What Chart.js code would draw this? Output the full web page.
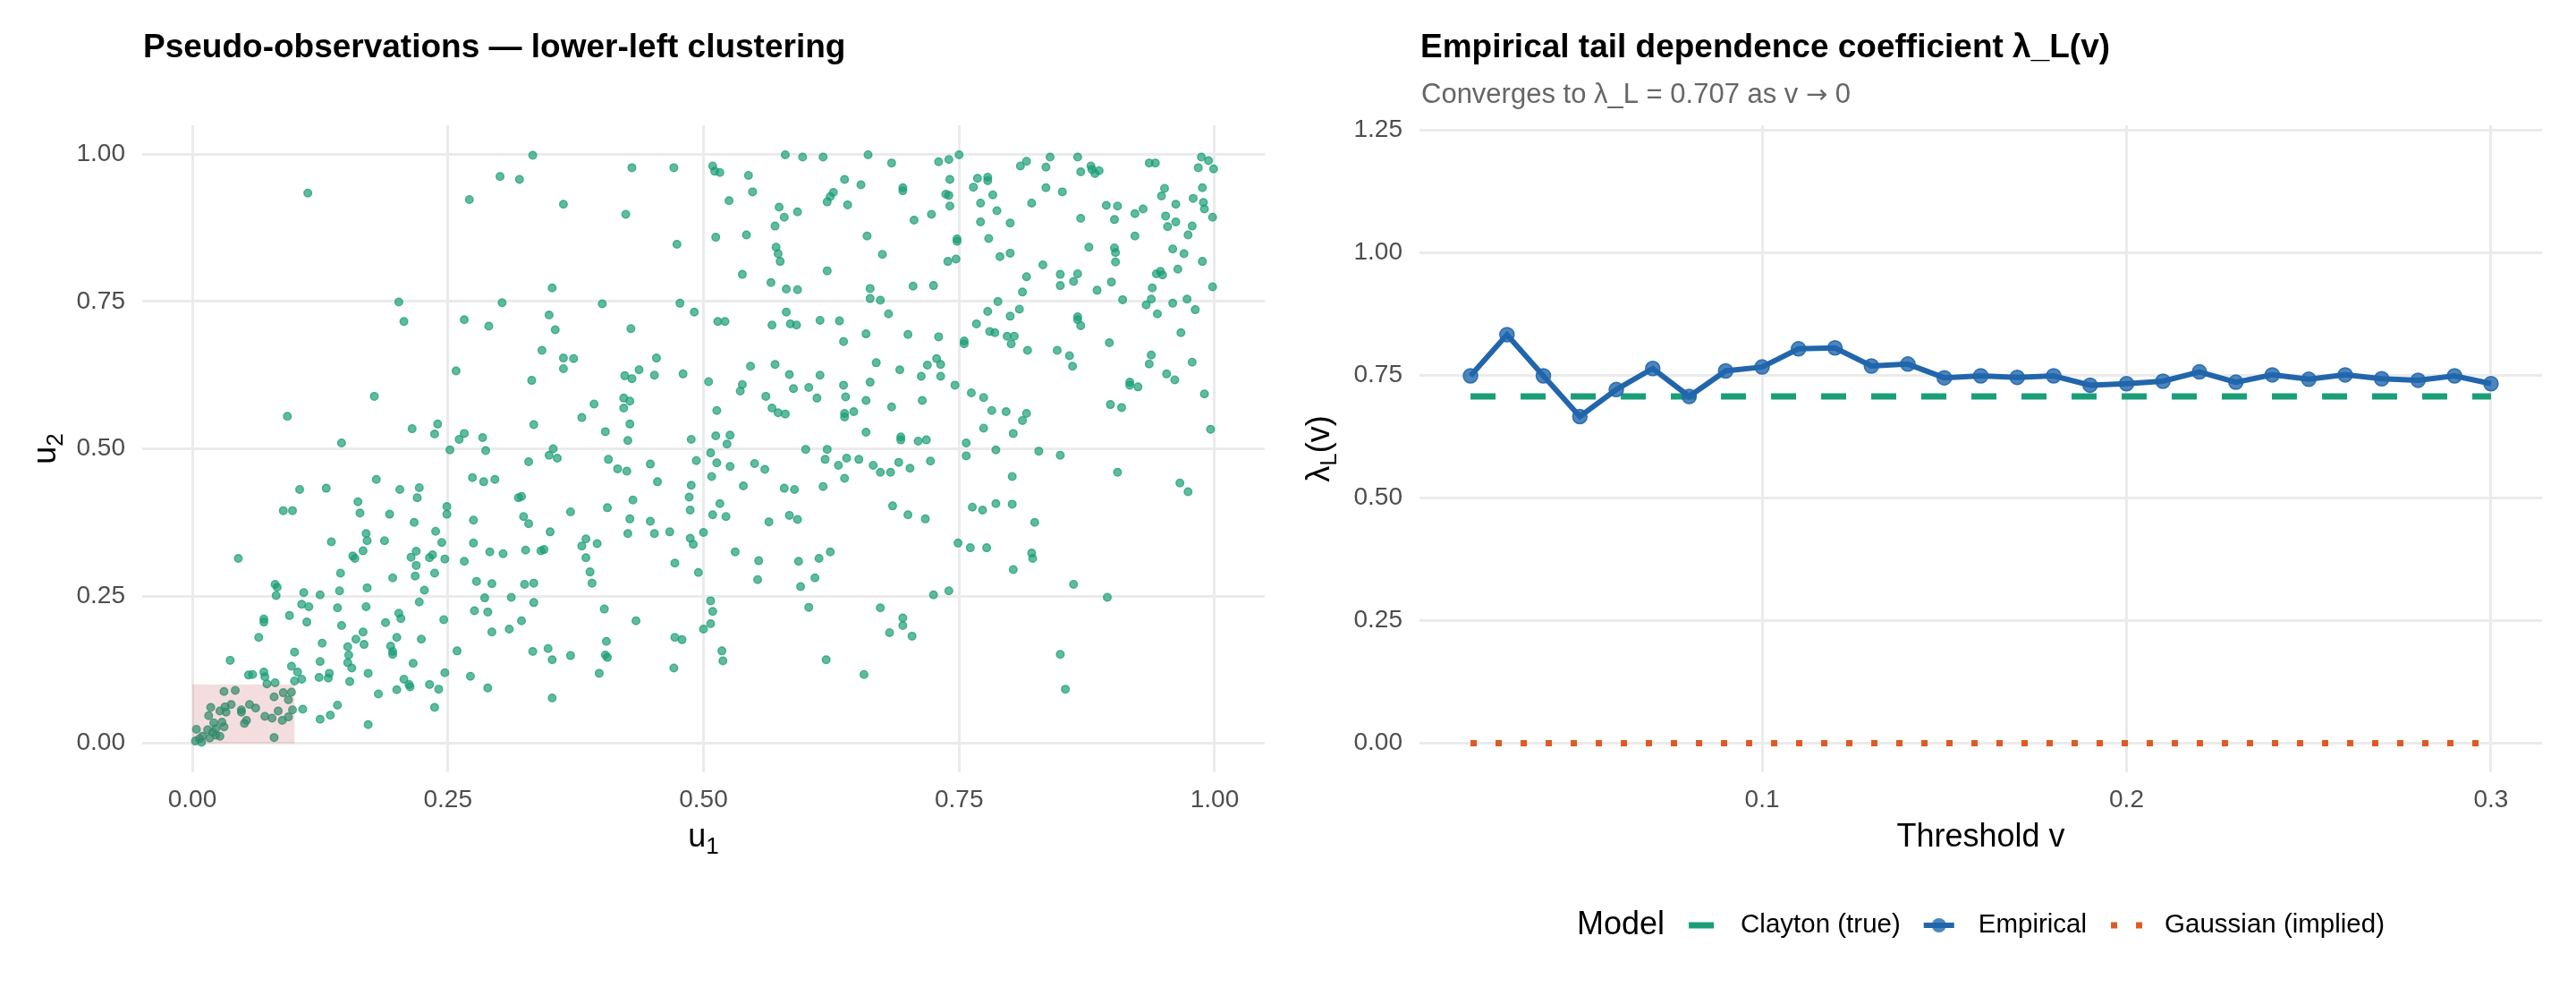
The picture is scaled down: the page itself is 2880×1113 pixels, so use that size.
<!DOCTYPE html>
<html>
<head>
<meta charset="utf-8">
<title>Clayton copula: pseudo-observations and tail dependence</title>
<script src="https://cdn.jsdelivr.net/npm/chart.js@4.4.1/dist/chart.umd.min.js"></script>
<style>
    html, body { margin: 0; padding: 0; background: #ffffff; }
    #wrap { position: relative; width: 2880px; height: 1113px; }
    #wrap canvas { position: absolute; top: 0; }
</style>
</head>
<body>
<div id="wrap">
    <canvas id="copulaChart" width="1440" height="1113" style="left:0"></canvas>
    <canvas id="tailChart" width="1440" height="1113" style="left:1440px"></canvas>
</div>
<script>
// Pseudo-observations (left panel)
const pseudoU1 = [
    0.333, 0.301, 0.320, 0.113, 0.271, 0.202, 0.207, 0.303, 0.266, 0.290, 0.258, 0.332, 0.178, 0.093, 0.215, 0.240,
    0.237, 0.266, 0.261, 0.284, 0.146, 0.334,
    0.430, 0.471, 0.363, 0.424, 0.474, 0.352, 0.401, 0.477, 0.491, 0.349, 0.355, 0.429, 0.342, 0.363, 0.373, 0.363,
    0.454, 0.437, 0.423, 0.430, 0.452, 0.480, 0.505, 0.393, 0.381, 0.422, 0.428, 0.422, 0.428, 0.404, 0.426, 0.488,
    0.509, 0.511, 0.516, 0.544, 0.580, 0.597, 0.617, 0.661, 0.684, 0.548, 0.525, 0.638, 0.654, 0.627, 0.624, 0.621,
    0.641, 0.574, 0.579, 0.592, 0.570, 0.512, 0.542, 0.660, 0.571, 0.573, 0.575, 0.675, 0.621, 0.538, 0.566, 0.581,
    0.592, 0.663, 0.663, 0.673, 0.681, 0.581, 0.514, 0.521, 0.567, 0.585, 0.591, 0.614, 0.633, 0.659, 0.637, 0.546,
    0.570, 0.584, 0.614, 0.669, 0.538, 0.536, 0.588, 0.603, 0.611, 0.637, 0.639, 0.663, 0.659, 0.561, 0.513, 0.567,
    0.573, 0.580, 0.638, 0.638, 0.647, 0.684, 0.512, 0.526, 0.523, 0.659,
    0.730, 0.740, 0.750, 0.741, 0.695, 0.695, 0.737, 0.740, 0.741, 0.706, 0.723, 0.768, 0.778, 0.778, 0.764, 0.783,
    0.771, 0.787, 0.771, 0.800, 0.748, 0.748, 0.779, 0.739, 0.747, 0.790, 0.800, 0.705, 0.725, 0.810, 0.816, 0.835,
    0.839, 0.866, 0.869, 0.879, 0.880, 0.883, 0.887, 0.835, 0.851, 0.821, 0.869, 0.894, 0.905, 0.902, 0.922, 0.930,
    0.922, 0.877, 0.902, 0.903, 0.903, 0.832, 0.816, 0.849, 0.866, 0.862, 0.849, 0.885, 0.899, 0.812, 0.788, 0.910,
    0.778, 0.809, 0.800, 0.767, 0.780, 0.785, 0.797, 0.804, 0.801, 0.755, 0.755, 0.700, 0.730, 0.817, 0.846, 0.858,
    0.861, 0.866, 0.866, 0.869, 0.897, 0.692, 0.719, 0.728, 0.732, 0.713, 0.732, 0.746, 0.714, 0.762, 0.774, 0.782,
    0.796, 0.816, 0.812, 0.774, 0.803, 0.693, 0.693, 0.710, 0.718, 0.757, 0.936, 0.942, 0.987, 0.994, 0.984, 0.999,
    0.951, 0.948, 0.988, 0.962, 0.979, 0.989, 0.990, 0.998, 0.952, 0.962, 0.954, 0.978, 0.974, 0.959, 0.970, 0.988,
    0.964, 0.943, 0.947, 0.949, 0.939, 0.938, 0.933, 0.944, 0.959, 0.973, 0.981, 0.998, 0.967, 0.938, 0.936, 0.978,
    0.953, 0.961, 0.917, 0.917, 0.925, 0.990, 0.898, 0.909, 0.996,
    0.252, 0.287, 0.329, 0.180, 0.105, 0.131, 0.203, 0.222, 0.220, 0.274, 0.285, 0.296, 0.319, 0.322, 0.089, 0.098,
    0.162, 0.164, 0.193, 0.249, 0.249, 0.217, 0.275, 0.324, 0.329, 0.170, 0.171, 0.136, 0.188, 0.238, 0.244, 0.275,
    0.045, 0.167, 0.157, 0.159, 0.219, 0.214, 0.219, 0.232, 0.235, 0.247, 0.266, 0.291, 0.304, 0.326, 0.145, 0.196,
    0.218, 0.237, 0.081, 0.083, 0.082, 0.109, 0.125, 0.144, 0.171, 0.227, 0.278, 0.293, 0.325, 0.334, 0.107, 0.114,
    0.142, 0.170, 0.222, 0.286, 0.312, 0.334, 0.070, 0.070, 0.095, 0.112, 0.146, 0.189, 0.202, 0.204, 0.246, 0.276,
    0.289, 0.293, 0.310, 0.322, 0.065, 0.127, 0.160, 0.167, 0.168, 0.200, 0.224, 0.194, 0.196, 0.196, 0.152, 0.153,
    0.152, 0.156, 0.259, 0.333, 0.037, 0.100, 0.125, 0.097, 0.103, 0.107, 0.100, 0.124, 0.133, 0.134, 0.154, 0.172,
    0.216, 0.207, 0.212, 0.213, 0.200, 0.182, 0.232, 0.241, 0.247, 0.272, 0.289, 0.237, 0.142, 0.135, 0.125, 0.172,
    0.108, 0.055, 0.059, 0.070, 0.071, 0.073, 0.081,
    0.031, 0.042, 0.080, 0.089, 0.097, 0.094, 0.098, 0.018, 0.027, 0.032, 0.038, 0.033, 0.016, 0.048, 0.048, 0.056,
    0.062, 0.071, 0.078, 0.084, 0.088, 0.094, 0.021, 0.029, 0.031, 0.053, 0.051, 0.004, 0.015, 0.020, 0.023, 0.027,
    0.010, 0.007, 0.003, 0.009, 0.017, 0.080, 0.023,
    0.353, 0.349, 0.357, 0.407, 0.416, 0.425, 0.448, 0.455, 0.493, 0.488, 0.486, 0.487, 0.431, 0.370, 0.406, 0.428,
    0.448, 0.426, 0.452, 0.467, 0.350, 0.341, 0.344, 0.385, 0.381, 0.396, 0.385, 0.389, 0.391, 0.472, 0.487, 0.490,
    0.500, 0.495, 0.507, 0.513, 0.526, 0.508, 0.550, 0.560, 0.600, 0.621, 0.619, 0.632, 0.640, 0.652, 0.666, 0.673,
    0.683, 0.638, 0.617, 0.539, 0.579, 0.589, 0.516, 0.509, 0.522, 0.564, 0.584, 0.592, 0.685, 0.531, 0.554, 0.553,
    0.593, 0.613, 0.624, 0.609, 0.595, 0.403, 0.434, 0.507, 0.509, 0.507, 0.500, 0.603, 0.673, 0.682, 0.405, 0.348,
    0.352, 0.370, 0.404, 0.406, 0.398, 0.472, 0.479, 0.471, 0.518, 0.519, 0.620, 0.657, 0.352,
    0.786, 0.828, 0.757, 0.849, 0.691, 0.702, 0.722, 0.802, 0.905, 0.966, 0.974, 0.700, 0.717, 0.763, 0.773, 0.786,
    0.802, 0.824, 0.749, 0.761, 0.777, 0.821, 0.822, 0.803, 0.862, 0.895, 0.725, 0.740, 0.695, 0.695, 0.704, 0.849,
    0.854
];
const pseudoU2 = [
    0.998, 0.962, 0.957, 0.934, 0.923, 0.749, 0.716, 0.748, 0.719, 0.708, 0.632, 0.616, 0.589, 0.555, 0.534, 0.542,
    0.525, 0.526, 0.516, 0.519, 0.510, 0.541,
    0.977, 0.977, 0.915, 0.898, 0.847, 0.773, 0.746, 0.747, 0.732, 0.727, 0.702, 0.704, 0.667, 0.654, 0.653, 0.636,
    0.654, 0.634, 0.624, 0.619, 0.625, 0.627, 0.614, 0.576, 0.553, 0.586, 0.581, 0.569, 0.542, 0.529, 0.514, 0.516,
    0.980, 0.971, 0.969, 0.964, 0.999, 0.995, 0.995, 0.999, 0.985, 0.936, 0.921, 0.957, 0.948, 0.935, 0.928, 0.919,
    0.914, 0.910, 0.893, 0.902, 0.878, 0.859, 0.863, 0.861, 0.842, 0.831, 0.818, 0.830, 0.802, 0.796, 0.782, 0.771,
    0.770, 0.772, 0.755, 0.752, 0.729, 0.732, 0.716, 0.716, 0.710, 0.712, 0.710, 0.718, 0.717, 0.695, 0.682, 0.640,
    0.643, 0.626, 0.625, 0.646, 0.609, 0.598, 0.602, 0.604, 0.586, 0.608, 0.588, 0.613, 0.582, 0.589, 0.565, 0.569,
    0.561, 0.559, 0.560, 0.554, 0.563, 0.571, 0.522, 0.523, 0.508, 0.528,
    0.987, 0.991, 0.999, 0.957, 0.943, 0.938, 0.932, 0.930, 0.912, 0.888, 0.898, 0.959, 0.961, 0.955, 0.944, 0.931,
    0.917, 0.904, 0.885, 0.883, 0.856, 0.852, 0.857, 0.818, 0.822, 0.826, 0.832, 0.776, 0.777, 0.980, 0.988, 0.978,
    0.995, 0.995, 0.970, 0.980, 0.974, 0.967, 0.972, 0.943, 0.936, 0.917, 0.891, 0.913, 0.912, 0.889, 0.899, 0.907,
    0.861, 0.842, 0.841, 0.833, 0.817, 0.812, 0.792, 0.796, 0.797, 0.784, 0.777, 0.769, 0.783, 0.766, 0.750, 0.753,
    0.733, 0.737, 0.725, 0.712, 0.699, 0.697, 0.691, 0.691, 0.678, 0.683, 0.678, 0.694, 0.690, 0.667, 0.667, 0.658,
    0.640, 0.724, 0.719, 0.709, 0.680, 0.634, 0.642, 0.653, 0.643, 0.623, 0.623, 0.608, 0.582, 0.595, 0.587, 0.565,
    0.563, 0.560, 0.548, 0.535, 0.526, 0.520, 0.515, 0.513, 0.515, 0.510, 0.985, 0.985, 0.995, 0.989, 0.977, 0.975,
    0.942, 0.929, 0.943, 0.915, 0.925, 0.918, 0.907, 0.893, 0.895, 0.885, 0.877, 0.878, 0.863, 0.839, 0.831, 0.818,
    0.805, 0.797, 0.801, 0.795, 0.773, 0.754, 0.744, 0.729, 0.747, 0.754, 0.736, 0.775, 0.697, 0.659, 0.644, 0.647,
    0.627, 0.617, 0.613, 0.608, 0.605, 0.593, 0.575, 0.570, 0.533,
    0.498, 0.497, 0.478, 0.448, 0.431, 0.433, 0.431, 0.434, 0.417, 0.451, 0.444, 0.448, 0.417, 0.419, 0.395, 0.395,
    0.410, 0.391, 0.389, 0.402, 0.389, 0.375, 0.379, 0.385, 0.373, 0.356, 0.344, 0.342, 0.344, 0.360, 0.341, 0.340,
    0.314, 0.327, 0.318, 0.314, 0.326, 0.316, 0.302, 0.315, 0.320, 0.313, 0.309, 0.325, 0.322, 0.328, 0.289, 0.281,
    0.284, 0.289, 0.270, 0.265, 0.251, 0.256, 0.252, 0.259, 0.264, 0.260, 0.275, 0.271, 0.270, 0.272, 0.236, 0.232,
    0.230, 0.232, 0.240, 0.247, 0.248, 0.239, 0.211, 0.206, 0.217, 0.206, 0.200, 0.205, 0.221, 0.212, 0.210, 0.225,
    0.223, 0.189, 0.194, 0.208, 0.180, 0.170, 0.177, 0.189, 0.168, 0.180, 0.177, 0.165, 0.156, 0.151, 0.164, 0.150,
    0.137, 0.128, 0.157, 0.156, 0.141, 0.155, 0.139, 0.131, 0.121, 0.109, 0.106, 0.112, 0.111, 0.119, 0.105, 0.119,
    0.136, 0.109, 0.100, 0.096, 0.091, 0.084, 0.100, 0.092, 0.120, 0.114, 0.094, 0.061, 0.065, 0.048, 0.041, 0.032,
    0.058, 0.116, 0.117, 0.121, 0.113, 0.101, 0.103,
    0.088, 0.090, 0.079, 0.086, 0.087, 0.074, 0.057, 0.061, 0.055, 0.062, 0.066, 0.053, 0.047, 0.057, 0.053, 0.066,
    0.060, 0.046, 0.043, 0.055, 0.039, 0.045, 0.035, 0.036, 0.028, 0.039, 0.034, 0.024, 0.023, 0.019, 0.014, 0.012,
    0.012, 0.008, 0.004, 0.002, 0.009, 0.010, 0.025,
    0.500, 0.489, 0.484, 0.482, 0.466, 0.462, 0.474, 0.444, 0.480, 0.438, 0.418, 0.396, 0.413, 0.393, 0.400, 0.381,
    0.377, 0.356, 0.356, 0.359, 0.359, 0.327, 0.329, 0.347, 0.335, 0.339, 0.315, 0.291, 0.272, 0.306, 0.348, 0.338,
    0.358, 0.290, 0.493, 0.476, 0.470, 0.453, 0.475, 0.465, 0.499, 0.499, 0.482, 0.472, 0.484, 0.482, 0.472, 0.460,
    0.460, 0.450, 0.436, 0.437, 0.433, 0.431, 0.407, 0.388, 0.385, 0.376, 0.387, 0.380, 0.403, 0.325, 0.310, 0.278,
    0.309, 0.314, 0.325, 0.281, 0.266, 0.228, 0.208, 0.242, 0.224, 0.203, 0.194, 0.231, 0.230, 0.188, 0.173, 0.161,
    0.142, 0.149, 0.150, 0.146, 0.119, 0.180, 0.176, 0.128, 0.157, 0.140, 0.142, 0.117, 0.077,
    0.498, 0.496, 0.488, 0.489, 0.477, 0.467, 0.479, 0.453, 0.460, 0.442, 0.427, 0.388, 0.381, 0.401, 0.396, 0.407,
    0.406, 0.375, 0.340, 0.332, 0.332, 0.323, 0.314, 0.295, 0.270, 0.248, 0.252, 0.259, 0.213, 0.200, 0.182, 0.151,
    0.092
];
const tailBoxLimit = 0.1;                 // lower-left box: u1, u2 <= 0.1
const copulaTicks = [0, 0.25, 0.5, 0.75, 1];

// Tail dependence (right panel)
const thresholds = [
    0.02, 0.03, 0.04, 0.05, 0.06, 0.07, 0.08, 0.09, 0.10, 0.11, 0.12, 0.13, 0.14, 0.15, 0.16,
    0.17, 0.18, 0.19, 0.20, 0.21, 0.22, 0.23, 0.24, 0.25, 0.26, 0.27, 0.28, 0.29, 0.30
];
const empiricalLambda = [
    0.749, 0.833, 0.749, 0.666, 0.721, 0.764, 0.707, 0.759, 0.767, 0.804, 0.806, 0.769, 0.773, 0.745, 0.749,
    0.746, 0.749, 0.730, 0.733, 0.738, 0.757, 0.736, 0.751, 0.742, 0.751, 0.743, 0.740, 0.749, 0.733
];
const claytonLambda = [
    0.707, 0.707, 0.707, 0.707, 0.707, 0.707, 0.707, 0.707, 0.707, 0.707, 0.707, 0.707, 0.707, 0.707, 0.707,
    0.707, 0.707, 0.707, 0.707, 0.707, 0.707, 0.707, 0.707, 0.707, 0.707, 0.707, 0.707, 0.707, 0.707
];
const gaussianLambda = [
    0, 0, 0, 0, 0, 0, 0, 0, 0, 0, 0, 0, 0, 0, 0,
    0, 0, 0, 0, 0, 0, 0, 0, 0, 0, 0, 0, 0, 0
];
const thresholdTicks = [0.1, 0.2, 0.3];
const lambdaTicks = [0, 0.25, 0.5, 0.75, 1, 1.25];
const modelNames = ['Clayton (true)', 'Empirical', 'Gaussian (implied)'];

const FONT = '"Liberation Sans", Arial, Helvetica, sans-serif';
const ARROW_FONT = '"DejaVu Sans", sans-serif';
const TICK_COLOR = '#4d4d4d';
const GRID_COLOR = '#ebebeb';
const GREEN = '#1b9e77';
const BLUE = '#2166ac';
const ORANGE = '#dc5a26';

Chart.defaults.font.family = FONT;

function toPoints(xs, ys) {
    return xs.map((x, i) => ({ x: x, y: ys[i] }));
}

// Linear axis in the ggplot minimal look: fixed ticks, no border, wide light grid
function makeAxis(tickValues, decimals, min, max, padding, fit) {
    return {
        type: 'linear',
        min: min,
        max: max,
        grid: { color: GRID_COLOR, lineWidth: 3, drawTicks: false },
        border: { display: false },
        ticks: {
            color: TICK_COLOR,
            font: { size: 28 },
            padding: padding,
            autoSkip: false,
            maxRotation: 0,
            callback: value => Number(value).toFixed(decimals)
        },
        afterBuildTicks: scale => {
            scale.ticks = tickValues.map(v => ({ value: v }));
        },
        afterFit: fit
    };
}

// Text with subscripts, e.g. u[1] or lambda[L](v)
function drawMathText(ctx, parts, cx, cy, rotated) {
    const mainFont = '36px ' + FONT;
    const subFont = '26px ' + FONT;
    ctx.save();
    ctx.translate(cx, cy);
    if (rotated) ctx.rotate(-Math.PI / 2);
    ctx.fillStyle = '#000000';
    ctx.textBaseline = 'alphabetic';
    ctx.textAlign = 'left';
    let total = 0;
    parts.forEach(p => {
        ctx.font = p.sub ? subFont : mainFont;
        p.w = ctx.measureText(p.text).width;
        total += p.w;
    });
    let x = -total / 2;
    parts.forEach(p => {
        ctx.font = p.sub ? subFont : mainFont;
        ctx.fillText(p.text, x, p.sub ? 8 : 0);
        x += p.w;
    });
    ctx.restore();
}

// Subtitle: the arrow comes from DejaVu, like the reference's fallback glyph
function drawSubtitle(ctx, text, x, y) {
    const pieces = text.split('\u2192');
    ctx.fillStyle = '#666666';
    pieces.forEach((piece, i) => {
        ctx.font = '31px ' + FONT;
        ctx.fillText(piece, x, y);
        x += ctx.measureText(piece).width;
        if (i < pieces.length - 1) {
            ctx.font = '29px ' + ARROW_FONT;
            ctx.fillText('\u2192', x, y);
            x += ctx.measureText('\u2192').width;
        }
    });
}

// Titles and axis titles, placed from the chart area
const panelText = {
    id: 'panelText',
    afterDraw(chart, args, opts) {
        const { ctx, chartArea } = chart;
        ctx.save();
        ctx.textAlign = 'left';
        ctx.textBaseline = 'alphabetic';
        ctx.fillStyle = '#000000';
        ctx.font = 'bold 37px ' + FONT;
        ctx.fillText(opts.title, chartArea.left + 1, 64);
        if (opts.subtitle) {
            drawSubtitle(ctx, opts.subtitle, chartArea.left + 2, 115);
        }
        ctx.restore();

        drawMathText(ctx, opts.xTitle, (chartArea.left + chartArea.right) / 2, 946, false);
        drawMathText(ctx, opts.yTitle, opts.yTitleX, (chartArea.top + chartArea.bottom) / 2, true);
    }
};

// Shaded lower-left tail region, drawn over the points
const tailBox = {
    id: 'tailBox',
    afterDatasetsDraw(chart) {
        const { ctx, scales } = chart;
        const x0 = scales.x.getPixelForValue(0);
        const x1 = scales.x.getPixelForValue(tailBoxLimit);
        const y0 = scales.y.getPixelForValue(0);
        const y1 = scales.y.getPixelForValue(tailBoxLimit);
        ctx.save();
        ctx.fillStyle = 'rgba(178, 24, 43, 0.15)';
        ctx.fillRect(x0, y1, x1 - x0, y0 - y1);
        ctx.restore();
    }
};

// Bottom legend, "Model" + three keys, centred under the panel
const modelLegend = {
    id: 'modelLegend',
    afterDraw(chart) {
        const { ctx, chartArea } = chart;
        const y = 1034;
        const keyW = 38, gapTitle = 22, gapLabel = 25, gapItem = 24;
        const labelFont = '29.5px ' + FONT;
        ctx.save();
        ctx.textBaseline = 'middle';
        ctx.textAlign = 'left';
        ctx.font = '36px ' + FONT;
        const titleW = ctx.measureText('Model').width;
        ctx.font = labelFont;
        const labelW = modelNames.map(n => ctx.measureText(n).width);
        let total = titleW + gapTitle + gapItem * (modelNames.length - 1);
        labelW.forEach(w => { total += keyW + gapLabel + w; });
        let x = (chartArea.left + chartArea.right) / 2 - total / 2;

        ctx.fillStyle = '#000000';
        ctx.font = '36px ' + FONT;
        ctx.fillText('Model', x, y);
        x += titleW + gapTitle;

        modelNames.forEach((name, i) => {
            if (i === 0) {
                ctx.fillStyle = GREEN;
                ctx.fillRect(x + 5, y - 3.5, 28, 7);
            } else if (i === 1) {
                ctx.strokeStyle = BLUE;
                ctx.lineWidth = 6;
                ctx.beginPath();
                ctx.moveTo(x + 2, y);
                ctx.lineTo(x + 36, y);
                ctx.stroke();
                ctx.beginPath();
                ctx.arc(x + keyW / 2, y, 8, 0, Math.PI * 2);
                ctx.fillStyle = 'rgba(33, 102, 172, 0.8)';
                ctx.fill();
            } else {
                ctx.fillStyle = ORANGE;
                ctx.fillRect(x + 3, y - 3.5, 7, 7);
                ctx.fillRect(x + 31, y - 3.5, 7, 7);
            }
            x += keyW + gapLabel;
            ctx.fillStyle = '#000000';
            ctx.font = labelFont;
            ctx.fillText(name, x, y);
            x += labelW[i] + gapItem;
        });
        ctx.restore();
    }
};

// Left panel: scatter of pseudo-observations
new Chart(document.getElementById('copulaChart'), {
    type: 'scatter',
    data: {
        datasets: [{
            label: 'Pseudo-observations',
            data: toPoints(pseudoU1, pseudoU2),
            pointRadius: 4.3,
            pointBorderWidth: 1.4,
            pointBackgroundColor: 'rgba(27, 158, 119, 0.7)',
            pointBorderColor: 'rgba(27, 158, 119, 0.75)'
        }]
    },
    options: {
        responsive: false,
        devicePixelRatio: 1,
        animation: false,
        events: [],
        layout: { padding: { top: 140, right: 26, bottom: 0, left: 0 } },
        plugins: {
            legend: { display: false },
            tooltip: { enabled: false },
            panelText: {
                title: 'Pseudo-observations \u2014 lower-left clustering',
                xTitle: [{ text: 'u' }, { text: '1', sub: true }],
                yTitle: [{ text: 'u' }, { text: '2', sub: true }],
                yTitleX: 62
            }
        },
        scales: {
            x: makeAxis(copulaTicks, 2, -0.049, 1.049, 14, s => { s.height = 250; }),
            y: makeAxis(copulaTicks, 2, -0.049, 1.049, 19, s => { s.width = 159; })
        }
    },
    plugins: [tailBox, panelText]
});

// Right panel: empirical lambda_L(v) against the model values
new Chart(document.getElementById('tailChart'), {
    type: 'line',
    data: {
        datasets: [
            {
                label: modelNames[1],
                data: toPoints(thresholds, empiricalLambda),
                borderColor: BLUE,
                borderWidth: 6,
                pointRadius: 8,
                pointBorderWidth: 1.5,
                pointBackgroundColor: 'rgba(33, 102, 172, 0.8)',
                pointBorderColor: 'rgba(33, 102, 172, 0.9)',
                tension: 0,
                fill: false
            },
            {
                label: modelNames[0],
                data: toPoints(thresholds, claytonLambda),
                borderColor: GREEN,
                borderWidth: 7,
                borderDash: [28, 28],
                borderCapStyle: 'butt',
                pointRadius: 0,
                fill: false
            },
            {
                label: modelNames[2],
                data: toPoints(thresholds, gaussianLambda),
                borderColor: ORANGE,
                borderWidth: 7,
                borderDash: [7, 21],
                borderCapStyle: 'butt',
                pointRadius: 0,
                fill: false
            }
        ]
    },
    options: {
        responsive: false,
        devicePixelRatio: 1,
        animation: false,
        events: [],
        layout: { padding: { top: 140, right: 38, bottom: 0, left: 0 } },
        plugins: {
            legend: { display: false },
            tooltip: { enabled: false },
            panelText: {
                title: 'Empirical tail dependence coefficient \u03bb_L(v)',
                subtitle: 'Converges to \u03bb_L = 0.707 as v \u2192 0',
                xTitle: [{ text: 'Threshold v' }],
                yTitle: [{ text: '\u03bb' }, { text: 'L', sub: true }, { text: '(v)' }],
                yTitleX: 46
            }
        },
        scales: {
            x: makeAxis(thresholdTicks, 1, 0.006, 0.314, 14, s => { s.height = 250; }),
            y: makeAxis(lambdaTicks, 2, -0.0594, 1.2599, 19, s => { s.width = 147; })
        }
    },
    plugins: [panelText, modelLegend]
});
</script>
</body>
</html>
